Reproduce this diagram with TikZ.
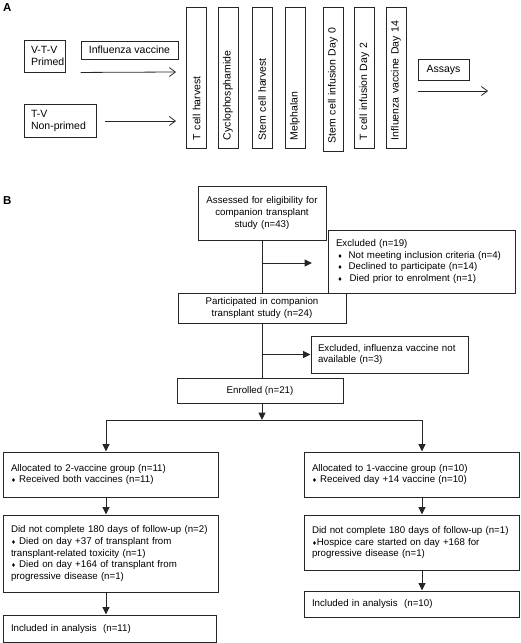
\documentclass[tikz,border=0pt]{standalone}
\usepackage{fontspec}
\setmainfont{Liberation Sans}
\newfontfamily\symf{DejaVu Sans}
\usetikzlibrary{arrows.meta}
\newcommand\bul{{\symf\fontsize{5.5}{5.5}\selectfont ♦}}
\begin{document}
\begin{tikzpicture}[x=1pt,y=-1pt,
  lbl/.style={font=\fontsize{11.5}{12}\selectfont\bfseries, inner sep=0pt, anchor=base west},
  boxA/.style={draw=black!85, line width=0.9pt, inner ysep=0pt, font=\fontsize{10.5}{12}\selectfont},
  vbox/.style={boxA, rotate=90, minimum height=20pt, inner xsep=8pt, align=left},
  boxB/.style={draw=black!85, line width=1pt, inner ysep=0pt, inner xsep=8pt, font=\fontsize{9.7}{11.6}\selectfont},
  aarrow/.style={draw=black!85, line width=0.8pt, -{Straight Barb[length=6pt,width=9pt]}},
  bline/.style={draw=black!85, line width=1pt},
  barrow/.style={bline, -{Triangle[length=7.5pt,width=7pt]}}
]
\useasboundingbox (0,0) rectangle (520,643);
% ---------- Part A ----------
\node[lbl] (labA) at (3,11.5) {A};
\node[boxA, minimum width=41pt, minimum height=32pt, text width=27pt, inner xsep=7pt, align=left] (vtv) at (44.5,56) {V-T-V\\Primed};
\node[boxA, minimum width=97pt, minimum height=18pt] (flu) at (129.5,50) {Influenza vaccine};
\node[boxA, minimum width=72pt, minimum height=33pt, text width=58pt, inner xsep=7pt, align=left] (tv) at (60,120.5) {T-V\\Non-primed};
\node[vbox, text width=125pt] (tch) at (196.5,77.5) {T cell harvest};
\node[vbox, text width=125pt] (cyc) at (228,77.5) {Cyclophosphamide};
\node[vbox, text width=125pt] (sch) at (262,77.5) {Stem cell harvest};
\node[vbox, text width=125pt] (mel) at (295,77.5) {Melphalan};
\node[vbox, text width=128pt] (sci) at (333,79) {Stem cell infusion Day 0};
\node[vbox, text width=125pt] (tci) at (364.5,77.5) {T cell infusion Day 2};
\node[vbox, text width=125pt] (fvd) at (396,77.5) {Influenza vaccine Day 14};
\node[boxA, minimum width=51pt, minimum height=21pt] (assays) at (443.5,69.5) {Assays};
\coordinate (a1e) at (176,72);
\coordinate (a2s) at (105,121);
\coordinate (a2e) at (176,121);
\coordinate (a3e) at (488,91);
\draw[aarrow] (flu.west |- vtv.south) -- (a1e);
\draw[aarrow] (a2s) -- (a2e);
\draw[aarrow] (assays.west |- a3e) -- (a3e);
% ---------- Part B ----------
\node[lbl] (labB) at (3,204) {B};
\node[boxB, minimum width=128pt, minimum height=54pt, text width=112pt, align=center] (asse) at (262,213) {Assessed for eligibility for\\companion transplant\\study (n=43)};
\node[boxB, minimum width=187pt, minimum height=63pt, text width=171pt, align=left] (ex1) at (421.5,261.5) {Excluded (n=19)\\\hspace*{1.5pt}\bul\hspace{3pt} Not meeting inclusion criteria (n=4)\\\hspace*{1.5pt}\bul\hspace{3pt} Declined to participate (n=14)\\\hspace*{1.5pt}\bul\hspace{4pt} Died prior to enrolment (n=1)};
\node[boxB, minimum width=168pt, minimum height=30pt, text width=152pt, align=center] (part) at (262,308) {Participated in companion\\transplant study (n=24)};
\node[boxB, minimum width=157pt, minimum height=37pt, text width=143pt, inner xsep=7pt, align=left] (ex2) at (389.5,354.5) {Excluded, influenza vaccine not\\available (n=3)};
\node[boxB, minimum width=166pt, minimum height=25pt] (enr) at (260,391) {Enrolled (n=21)};
\node[boxB, minimum width=215pt, minimum height=45pt, text width=199pt, align=left] (L1) at (110.5,474.5) {Allocated to 2-vaccine group (n=11)\\\bul\ Received both vaccines (n=11)};
\node[boxB, minimum width=215pt, minimum height=77pt, text width=199pt, align=left] (L2) at (110.5,553.5) {Did not complete 180 days of follow-up (n=2)\\\bul\ Died on day +37 of transplant from\\transplant-related toxicity (n=1)\\\bul\ Died on day +164 of transplant from\\progressive disease (n=1)};
\node[boxB, minimum width=213pt, minimum height=27pt, text width=197pt, align=left] (L3) at (109.5,628.5) {Included in analysis\ \ (n=11)};
\node[boxB, minimum width=215pt, minimum height=45pt, text width=199pt, align=left] (R1) at (411.5,474.5) {Allocated to 1-vaccine group (n=10)\\\bul\ Received day +14 vaccine (n=10)};
\node[boxB, minimum width=215pt, minimum height=55pt, text width=199pt, align=left] (R2) at (411.5,542.5) {Did not complete 180 days of follow-up (n=1)\\\bul Hospice care started on day +168 for\\progressive disease (n=1)};
\node[boxB, minimum width=215pt, minimum height=26pt, text width=199pt, align=left] (R3) at (411.5,604) {Included in analysis\ \ (n=10)};
% connectors
\coordinate (j1) at (262,263);
\coordinate (j1e) at (312,263);
\coordinate (j2) at (262,354.5);
\coordinate (bl) at (106,420);
\coordinate (bc) at (262,420);
\coordinate (bR) at (422,420);
\draw[bline] (asse.south) -- (part.north);
\draw[barrow] (j1) -- (j1e);
\draw[bline] (part.south) -- (asse.south |- enr.north);
\draw[barrow] (j2) -- (ex2.west);
\draw[barrow] (asse.south |- enr.south) -- (bc);
\draw[bline] (bl) -- (bR);
\draw[barrow] (bl) -- (bl |- L1.north);
\draw[barrow] (bR) -- (bR |- R1.north);
\draw[barrow] (bl |- L1.south) -- (bl |- L2.north);
\draw[barrow] (bl |- L2.south) -- (bl |- L3.north);
\draw[barrow] (bR |- R1.south) -- (bR |- R2.north);
\draw[barrow] (bR |- R2.south) -- (bR |- R3.north);
\end{tikzpicture}
\end{document}
